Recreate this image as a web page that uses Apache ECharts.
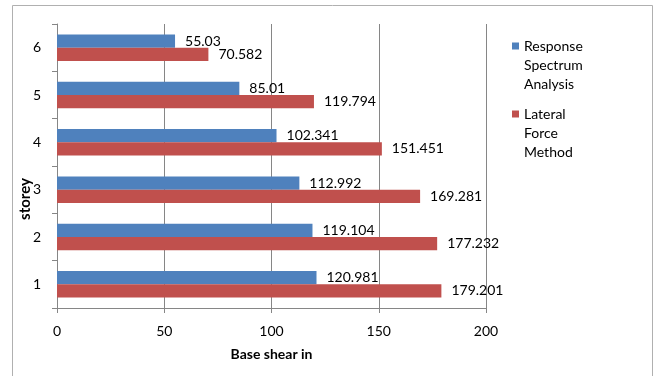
<!DOCTYPE html>
<html>
<head>
<meta charset="utf-8">
<script src="https://cdn.jsdelivr.net/npm/echarts@6/dist/echarts.min.js"></script>
<style>
  html, body { margin: 0; padding: 0; background: #fff; }
  #chart { width: 656px; height: 376px; }
</style>
</head>
<body>
<div id="chart"></div>
<script>
// Storey numbers, bottom to top
const storeys = ['1', '2', '3', '4', '5', '6'];
// Base shear per storey for each method
const responseSpectrum = [120.981, 119.104, 112.992, 102.341, 85.01, 55.03];
const lateralForce = [179.201, 177.232, 169.281, 151.451, 119.794, 70.582];
// Value axis settings
const xMin = 0;
const xMax = 200;
const xStep = 50;

const FONT = 'Lato';
const GREY = '#868686';

const chart = echarts.init(document.getElementById('chart'), null, { renderer: 'canvas' });

const labelStyle = {
  show: true,
  position: 'right',
  distance: 10,
  color: '#000',
  fontFamily: FONT,
  fontSize: 14,
  formatter: p => String(p.value)
};

// Two blank lines on top keep the legend marker beside the first text line
const legendText = { fontFamily: FONT, fontSize: 14, color: '#000', lineHeight: 19 };

chart.setOption({
  animation: false,
  backgroundColor: '#fff',
  textStyle: { fontFamily: FONT },
  graphic: [
    {
      type: 'rect',
      shape: { x: 12.5, y: 5.5, width: 640, height: 420 },
      style: { fill: 'none', stroke: '#b0b0b0', lineWidth: 1 },
      silent: true, z: -10
    },
    {
      type: 'text',
      x: 25, y: 199,
      rotation: Math.PI / 2,
      style: {
        text: 'storey',
        fontFamily: FONT, fontSize: 15, fontWeight: 'bold',
        fill: '#000', align: 'center', verticalAlign: 'middle'
      }
    }
  ],
  legend: [
    {
      data: ['Response Spectrum Analysis'],
      left: 512, top: -1.5, padding: 0,
      icon: 'rect', itemWidth: 7, itemHeight: 7,
      formatter: () => '\n\nResponse\nSpectrum\nAnalysis',
      textStyle: legendText
    },
    {
      data: ['Lateral Force Method'],
      left: 512, top: 66.5, padding: 0,
      icon: 'rect', itemWidth: 7, itemHeight: 7,
      formatter: () => '\n\nLateral\nForce\nMethod',
      textStyle: legendText
    }
  ],
  grid: { left: 57, right: 170, top: 24, bottom: 68, containLabel: false },
  xAxis: {
    type: 'value',
    min: xMin, max: xMax, interval: xStep,
    name: 'Base shear in',
    nameLocation: 'middle',
    nameGap: 39,
    nameTextStyle: { fontFamily: FONT, fontSize: 14, fontWeight: 'bold', color: '#000' },
    axisLine: { show: true, lineStyle: { color: GREY, width: 1 } },
    axisTick: { show: true, length: 5, lineStyle: { color: GREY } },
    axisLabel: { margin: 16, fontFamily: FONT, fontSize: 14, color: '#000' },
    splitLine: { show: true, lineStyle: { color: GREY, width: 1 } }
  },
  yAxis: {
    type: 'category',
    data: storeys,
    axisLine: { show: true, lineStyle: { color: GREY, width: 1 } },
    axisTick: { show: true, length: 5, lineStyle: { color: GREY } },
    axisLabel: { margin: 16, fontFamily: FONT, fontSize: 14, color: '#000' },
    splitLine: { show: false }
  },
  series: [
    {
      name: 'Response Spectrum Analysis',
      type: 'bar',
      data: responseSpectrum,
      barGap: '0%',
      barCategoryGap: '44%',
      itemStyle: { color: '#4F81BD' },
      label: labelStyle
    },
    {
      name: 'Lateral Force Method',
      type: 'bar',
      data: lateralForce,
      barGap: '0%',
      barCategoryGap: '44%',
      itemStyle: { color: '#C0504D' },
      label: labelStyle
    }
  ]
});
</script>
</body>
</html>
